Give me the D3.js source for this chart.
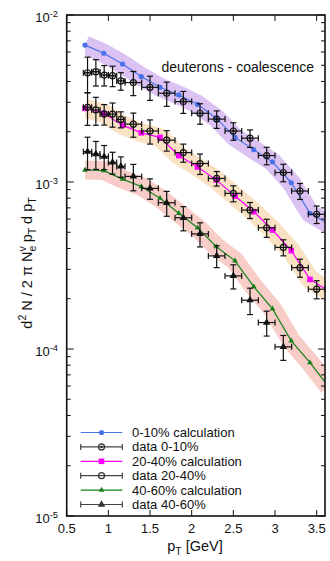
<!DOCTYPE html>
<html>
<head>
<meta charset="utf-8">
<script src="https://cdn.jsdelivr.net/npm/d3@7"></script>
<style>
  html, body { margin: 0; padding: 0; background: #fff; }
  svg text { font-family: "Liberation Sans", Arial, Helvetica, sans-serif; fill: #111; white-space: pre; }
</style>
</head>
<body>
<div id="chart"></div>
<script>
// calculation grid, pT in GeV
const calcPt = [0.72, 0.945, 1.17, 1.395, 1.62, 1.845, 2.07, 2.295, 2.52, 2.745, 2.97, 3.195, 3.42, 3.645];
const calc010 = [6.61e-3, 5.90e-3, 5.09e-3, 4.28e-3, 3.69e-3, 3.32e-3, 2.92e-3, 2.41e-3, 1.85e-3, 1.56e-3, 1.32e-3, 9.9e-4, 6.5e-4, 5.6e-4];
const calc2040 = [2.76e-3, 2.58e-3, 2.19e-3, 1.97e-3, 1.85e-3, 1.44e-3, 1.23e-3, 1.03e-3, 8.24e-4, 6.64e-4, 5.16e-4, 3.88e-4, 2.61e-4, 2.22e-4];
const calc4060 = [1.18e-3, 1.17e-3, 1.04e-3, 9.4e-4, 8.0e-4, 6.5e-4, 5.32e-4, 4.10e-4, 3.37e-4, 2.36e-4, 1.74e-4, 1.12e-4, 8.28e-5, 5.94e-5];

// measured points
const dataPt = [0.75, 0.85, 0.95, 1.05, 1.15, 1.3, 1.5, 1.7, 1.9, 2.1, 2.3, 2.5, 2.7, 2.9, 3.1, 3.3, 3.5];
const dataPtErr = [0.05, 0.05, 0.05, 0.05, 0.05, 0.1, 0.1, 0.1, 0.1, 0.1, 0.1, 0.1, 0.1, 0.1, 0.1, 0.1, 0.1];
const data010 = [4.51e-3, 4.58e-3, 4.37e-3, 4.33e-3, 4.03e-3, 3.94e-3, 3.69e-3, 3.40e-3, 3.03e-3, 2.58e-3, 2.38e-3, 2.02e-3, 1.83e-3, 1.44e-3, 1.14e-3, 8.83e-4, 6.41e-4];
const err010 = [0.24, 0.18, 0.14, 0.14, 0.12, 0.165, 0.165, 0.165, 0.15, 0.14, 0.12, 0.12, 0.12, 0.12, 0.12, 0.11, 0.12];
const data2040 = [2.80e-3, 2.70e-3, 2.55e-3, 2.55e-3, 2.37e-3, 2.22e-3, 2.02e-3, 1.78e-3, 1.50e-3, 1.29e-3, 1.05e-3, 8.55e-4, 6.79e-4, 5.32e-4, 4.06e-4, 3.07e-4, 2.28e-4];
const err2040 = [0.22, 0.19, 0.14, 0.165, 0.11, 0.165, 0.165, 0.14, 0.124, 0.14, 0.1, 0.11, 0.11, 0.124, 0.11, 0.124, 0.124];
const data4060 = [1.52e-3, 1.47e-3, 1.42e-3, 1.31e-3, 1.24e-3, 1.08e-3, 9.16e-4, 7.51e-4, 6.11e-4, 4.89e-4, 3.61e-4, 2.74e-4, 1.96e-4, 1.44e-4, 1.03e-4];
const err4060 = [0.22, 0.19, 0.165, 0.15, 0.14, 0.18, 0.14, 0.17, 0.165, 0.165, 0.15, 0.165, 0.18, 0.17, 0.17];

const xTicks = [0.5, 1, 1.5, 2, 2.5, 3, 3.5];
const yDecades = [-5, -4, -3, -2];
const legendLabels = ['0-10% calculation', 'data 0-10%', '20-40% calculation', 'data 20-40%', '40-60% calculation', 'data 40-60%'];

const W = 330, H = 561;
const plot = { left: 66.7, right: 325, top: 15, bottom: 516 };

const x = d3.scaleLinear().domain([0.5, 3.6]).range([plot.left, plot.right]);
const y = d3.scaleLog().domain([1e-5, 1e-2]).range([plot.bottom, plot.top]);

const svg = d3.select('#chart').append('svg')
  .attr('width', W).attr('height', H);

// clip for bands and lines: they start at the first calc point
svg.append('clipPath').attr('id', 'calcClip')
  .append('rect')
  .attr('x', x(calcPt[0])).attr('y', plot.top)
  .attr('width', plot.right - x(calcPt[0])).attr('height', plot.bottom - plot.top);

const calcSeries = [
  { vals: calc010, color: '#4a72e8', band: '#dcc2f2', marker: 'dot' },
  { vals: calc2040, color: '#ff00ff', band: '#f9e2c4', marker: 'square' },
  { vals: calc4060, color: '#15801a', band: '#f8cdc8', marker: 'tri' }
];
const dataSeries = [
  { vals: data010, err: err010, marker: 'circdot' },
  { vals: data2040, err: err2040, marker: 'circ' },
  { vals: data4060, err: err4060, marker: 'bigtri' }
];

const line = d3.line().x(d => x(d[0])).y(d => y(d[1]));

// uncertainty bands (wide strokes)
const bands = svg.append('g').attr('clip-path', 'url(#calcClip)');
calcSeries.forEach(s => {
  bands.append('path')
    .attr('d', line(calcPt.map((p, i) => [p, s.vals[i]])))
    .attr('fill', 'none')
    .attr('stroke', s.band)
    .attr('stroke-width', 19)
    .attr('stroke-linejoin', 'round');
});

function drawMarker(g, kind, cx, cy, color) {
  if (kind === 'dot') {
    g.append('circle').attr('cx', cx).attr('cy', cy).attr('r', 2.6).attr('fill', color);
  } else if (kind === 'square') {
    g.append('rect').attr('x', cx - 2.8).attr('y', cy - 2.8).attr('width', 5.6).attr('height', 5.6).attr('fill', color);
  } else if (kind === 'tri') {
    g.append('path').attr('d', d3.symbol(d3.symbolTriangle, 14)()).attr('transform', `translate(${cx},${cy})`).attr('fill', color);
  } else if (kind === 'circdot') {
    g.append('circle').attr('cx', cx).attr('cy', cy).attr('r', 3).attr('fill', 'none').attr('stroke', color).attr('stroke-width', 1.2);
    g.append('circle').attr('cx', cx).attr('cy', cy).attr('r', 1.3).attr('fill', color);
  } else if (kind === 'circ') {
    g.append('circle').attr('cx', cx).attr('cy', cy).attr('r', 3).attr('fill', 'none').attr('stroke', color).attr('stroke-width', 1.2);
  } else if (kind === 'bigtri') {
    g.append('path').attr('d', d3.symbol(d3.symbolTriangle, 24)()).attr('transform', `translate(${cx},${cy})`).attr('fill', color);
  }
}

// calculation lines
const lines = svg.append('g').attr('clip-path', 'url(#calcClip)');
calcSeries.forEach(s => {
  lines.append('path')
    .attr('d', line(calcPt.map((p, i) => [p, s.vals[i]])))
    .attr('fill', 'none')
    .attr('stroke', s.color)
    .attr('stroke-width', 1.2);
});
const calcMarks = svg.append('g');
calcSeries.forEach(s => {
  calcPt.forEach((p, i) => {
    if (p <= x.domain()[1]) drawMarker(calcMarks, s.marker, x(p), y(s.vals[i]), s.color);
  });
});

// data with error bars
const cap = 3;
const dataG = svg.append('g').attr('stroke', '#111').attr('stroke-width', 1.2);
dataSeries.forEach(s => {
  s.vals.forEach((v, i) => {
    const cx = x(dataPt[i]), cy = y(v);
    const y0 = y(v * (1 - s.err[i])), y1 = y(v * (1 + s.err[i]));
    const x0 = x(dataPt[i] - dataPtErr[i]), x1 = x(dataPt[i] + dataPtErr[i]);
    dataG.append('line').attr('x1', cx).attr('x2', cx).attr('y1', y0).attr('y2', y1);
    dataG.append('line').attr('x1', cx - cap).attr('x2', cx + cap).attr('y1', y0).attr('y2', y0);
    dataG.append('line').attr('x1', cx - cap).attr('x2', cx + cap).attr('y1', y1).attr('y2', y1);
    dataG.append('line').attr('x1', x0).attr('x2', x1).attr('y1', cy).attr('y2', cy);
    dataG.append('line').attr('x1', x0).attr('x2', x0).attr('y1', cy - cap).attr('y2', cy + cap);
    dataG.append('line').attr('x1', x1).attr('x2', x1).attr('y1', cy - cap).attr('y2', cy + cap);
  });
});
const dataMarks = svg.append('g');
dataSeries.forEach(s => {
  s.vals.forEach((v, i) => drawMarker(dataMarks, s.marker, x(dataPt[i]), y(v), '#111'));
});

// frame and ticks
const axes = svg.append('g').attr('stroke', '#111');
axes.append('rect')
  .attr('x', plot.left).attr('y', plot.top)
  .attr('width', plot.right - plot.left).attr('height', plot.bottom - plot.top)
  .attr('fill', 'none').attr('stroke-width', 1.6);
xTicks.forEach(t => {
  axes.append('line').attr('x1', x(t)).attr('x2', x(t)).attr('y1', plot.bottom).attr('y2', plot.bottom - 6).attr('stroke-width', 1);
  axes.append('line').attr('x1', x(t)).attr('x2', x(t)).attr('y1', plot.top).attr('y2', plot.top + 6).attr('stroke-width', 1);
});
yDecades.forEach(d => {
  for (let k = 1; k <= 9; k++) {
    const v = k * Math.pow(10, d);
    if (v > 1e-2) break;
    const len = k === 1 ? 7 : 4;
    axes.append('line').attr('x1', plot.left).attr('x2', plot.left + len).attr('y1', y(v)).attr('y2', y(v)).attr('stroke-width', 1);
    axes.append('line').attr('x1', plot.right).attr('x2', plot.right - len).attr('y1', y(v)).attr('y2', y(v)).attr('stroke-width', 1);
  }
});

// tick labels
xTicks.forEach(t => {
  svg.append('text').attr('x', x(t)).attr('y', 533).attr('text-anchor', 'middle')
    .style('font-size', '13px').text(t);
});

function richText(sel, parts, size) {
  let shift = 0;
  parts.forEach(([t, mode, dx]) => {
    const target = mode === 'sup' ? -0.4 * size : mode === 'sub' ? 0.25 * size : 0;
    const ts = sel.append('tspan').attr('dy', target - shift).text(t);
    if (mode !== 'n') ts.style('font-size', (size * 0.72) + 'px');
    if (dx) ts.attr('dx', dx);
    shift = target;
  });
}

yDecades.forEach(d => {
  const t = svg.append('text').attr('x', 58).attr('y', y(Math.pow(10, d)) + 7)
    .attr('text-anchor', 'end').style('font-size', '13px');
  richText(t, [['10', 'n'], [String(d), 'sup']], 13);
});

// axis titles
const xl = svg.append('text').attr('x', 195).attr('y', 551).attr('text-anchor', 'middle').style('font-size', '14.5px');
richText(xl, [['p', 'n'], ['T', 'sub'], [' [GeV]', 'n']], 14.5);

const yl = svg.append('text').attr('transform', 'translate(32,263) rotate(-90)')
  .attr('text-anchor', 'middle').style('font-size', '14.5px');
richText(yl, [['d', 'n'], ['2', 'sup'], [' N / 2 \u03c0 N', 'n'], ['e', 'sub'], ['v', 'sup', -5.8], [' p', 'n'], ['T', 'sub'], [' d p', 'n'], ['T', 'sub']], 14.5);

svg.append('text').attr('x', 314).attr('y', 71.5).attr('text-anchor', 'end')
  .style('font-size', '14px').text('deuterons - coalescence');

// legend
const legend = svg.append('g');
const legendKinds = [
  { calc: calcSeries[0] }, { data: dataSeries[0] },
  { calc: calcSeries[1] }, { data: dataSeries[1] },
  { calc: calcSeries[2] }, { data: dataSeries[2] }
];
const lx0 = 80.7, lx1 = 122.3, lxm = (lx0 + lx1) / 2;
legendKinds.forEach((k, i) => {
  const ly = 432.5 + i * 14.4;
  if (k.calc) {
    legend.append('line').attr('x1', lx0).attr('x2', lx1).attr('y1', ly).attr('y2', ly)
      .attr('stroke', k.calc.color).attr('stroke-width', 1.2);
    drawMarker(legend, k.calc.marker, lxm, ly, k.calc.color);
  } else {
    const g = legend.append('g').attr('stroke', '#444').attr('stroke-width', 1.2);
    g.append('line').attr('x1', lx0).attr('x2', lx1).attr('y1', ly).attr('y2', ly);
    g.append('line').attr('x1', lx0).attr('x2', lx0).attr('y1', ly - cap).attr('y2', ly + cap);
    g.append('line').attr('x1', lx1).attr('x2', lx1).attr('y1', ly - cap).attr('y2', ly + cap);
    drawMarker(legend, k.data.marker, lxm, ly, '#333');
  }
  legend.append('text').attr('x', 132).attr('y', ly + 4.5).style('font-size', '13px').text(legendLabels[i]);
});
</script>
</body>
</html>
